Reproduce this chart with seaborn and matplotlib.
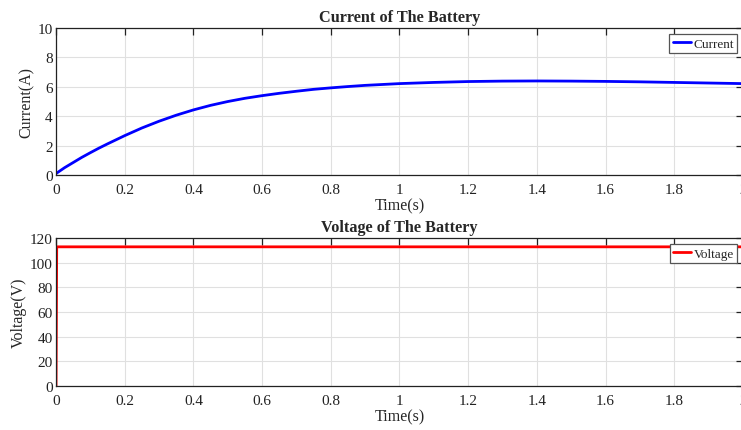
import matplotlib
matplotlib.use("Agg")
import matplotlib.pyplot as plt
import seaborn as sns
import pandas as pd

# 電流資料 (讀自圖面)
time_current = [0.0, 0.025, 0.05, 0.075, 0.1, 0.125, 0.15, 0.175, 0.2, 0.25,
                0.3, 0.35, 0.4, 0.45, 0.5, 0.55, 0.6, 0.65, 0.7, 0.75, 0.8,
                0.85, 0.9, 0.95, 1.0, 1.1, 1.2, 1.3, 1.4, 1.5, 1.6, 1.7,
                1.8, 1.9, 2.0]
current = [0.1, 0.5, 0.85, 1.2, 1.52, 1.83, 2.12, 2.4, 2.68, 3.2,
           3.66, 4.07, 4.43, 4.74, 5.0, 5.22, 5.4, 5.56, 5.7, 5.83, 5.93,
           6.02, 6.1, 6.16, 6.22, 6.3, 6.36, 6.39, 6.4, 6.39, 6.37, 6.34,
           6.3, 6.26, 6.22]

# 電壓資料
time_voltage = [0.0, 0.002, 0.5, 1.0, 1.5, 2.0]
voltage = [0.0, 113.0, 113.0, 113.0, 113.0, 113.0]

x_ticks = [0, 0.2, 0.4, 0.6, 0.8, 1, 1.2, 1.4, 1.6, 1.8, 2]
x_labels = ["0", "0.2", "0.4", "0.6", "0.8", "1", "1.2", "1.4", "1.6", "1.8", "2"]

df_i = pd.DataFrame({"t": time_current, "Current": current})
df_v = pd.DataFrame({"t": time_voltage, "Voltage": voltage})

sns.set_style("white")
plt.rcParams["font.family"] = ["Liberation Serif", "DejaVu Serif"]

fig = plt.figure(figsize=(7.41, 4.31), dpi=100)
ax1 = fig.add_axes([0.0756, 0.5916, 0.927, 0.341])
ax2 = fig.add_axes([0.0756, 0.102, 0.927, 0.343])


def style_axes(ax, ylim, yticks, ylabel, title):
    ax.set_xlim(0, 2)
    ax.set_ylim(*ylim)
    ax.set_xticks(x_ticks)
    ax.set_xticklabels(x_labels)
    ax.set_yticks(yticks)
    ax.grid(True, color="#e0e0e0", linewidth=0.8)
    ax.set_axisbelow(True)
    for s in ax.spines.values():
        s.set_color("#222222")
        s.set_linewidth(0.9)
        s.set_visible(True)
    ax.tick_params(direction="in", length=5, width=0.9, top=True, right=True,
                   labelsize=11, colors="#222222")
    ax.tick_params(axis="x", pad=5.5)
    ax.tick_params(axis="y", pad=2.5)
    ax.set_xlabel("Time(s)", fontsize=11.5, labelpad=1.5, color="#262626")
    ax.set_ylabel(ylabel, fontsize=11.5, labelpad=2, color="#262626")
    ax.set_title(title, fontsize=11.7, fontweight="bold", pad=5)
    leg = ax.legend(loc="upper right", fontsize=9.5, frameon=True, fancybox=False,
                    handlelength=1.4, handletextpad=0.15, borderpad=0.25,
                    borderaxespad=0.45, labelspacing=0.2)
    leg.get_frame().set_edgecolor("#555555")
    leg.get_frame().set_linewidth(0.9)
    leg.get_frame().set_alpha(1.0)


sns.lineplot(data=df_i, x="t", y="Current", ax=ax1, color="#0000ff",
             linewidth=2.0, label="Current")
style_axes(ax1, (0, 10), [0, 2, 4, 6, 8, 10], "Current(A)", "Current of The Battery")

sns.lineplot(data=df_v, x="t", y="Voltage", ax=ax2, color="#ff0000",
             linewidth=2.0, label="Voltage")
style_axes(ax2, (0, 120), [0, 20, 40, 60, 80, 100, 120], "Voltage(V)", "Voltage of The Battery")

fig.savefig("out.png", dpi=100)
